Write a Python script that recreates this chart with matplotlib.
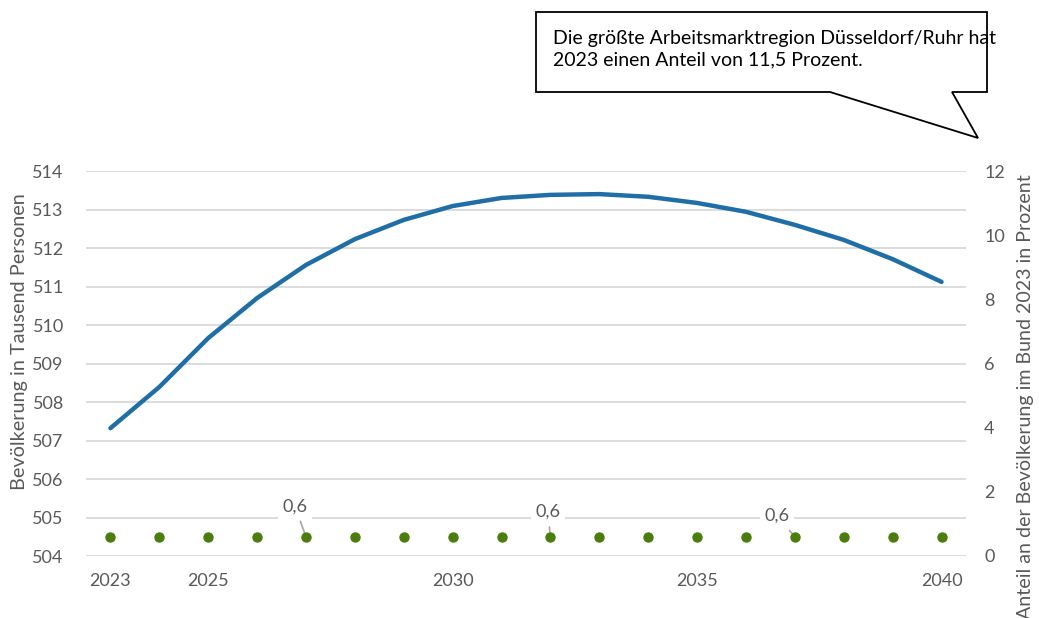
import matplotlib.pyplot as plt
import matplotlib.patches as patches
import numpy as np

plt.rcParams['font.family'] = ['Lato', 'DejaVu Sans']

# data
years = np.arange(2023, 2041)
bevoelkerung = [507.32, 508.39, 509.66, 510.70, 511.56, 512.23, 512.73, 513.09, 513.30,
                513.38, 513.40, 513.33, 513.17, 512.94, 512.60, 512.21, 511.71, 511.12]
anteil = [0.6] * len(years)
label_years = [2027, 2032, 2037]
label_offsets = [(-8, 22), (-2, 18), (-13, 15)]
xtick_years = [2023, 2025, 2030, 2035, 2040]
callout_text = 'Die größte Arbeitsmarktregion Düsseldorf/Ruhr hat\n2023 einen Anteil von 11,5 Prozent.'

grey = '#595959'
gridc = '#d9d9d9'

fig = plt.figure(figsize=(10.39, 6.18), dpi=100)
ax = fig.add_axes([86/1039, 1-556/618, 880/1039, 385/618])
ax2 = ax.twinx()

ax.set_xlim(2022.5, 2040.5)
ax.set_ylim(504, 514)
ax.set_yticks(np.arange(504, 515, 1))
ax.set_xticks(xtick_years)
ax.grid(True, axis='y', color=gridc, linewidth=1.3)
ax.set_axisbelow(True)
for a in (ax, ax2):
    for sp in a.spines.values():
        sp.set_visible(False)
    a.tick_params(length=0, labelsize=13, colors=grey)
ax.tick_params(axis='x', pad=12)
ax.tick_params(axis='y', pad=16)
ax2.tick_params(axis='y', pad=13)

ax.plot(years, bevoelkerung, color='#1f6fa6', linewidth=3.2, solid_capstyle='round', zorder=3)

ax2.set_ylim(0, 12)
ax2.set_yticks(np.arange(0, 13, 2))
ax2.scatter(years, anteil, s=42, color='#4a7d0c', zorder=4)
for yr, off in zip(label_years, label_offsets):
    ax2.annotate('0,6', xy=(yr, 0.6), xytext=off, textcoords='offset points',
                 ha='center', va='center', fontsize=13, color=grey,
                 bbox=dict(boxstyle='square,pad=0.25', fc='white', ec='none'),
                 arrowprops=dict(arrowstyle='-', color='#a6a6a6', lw=1.2, shrinkA=2, shrinkB=3))

fig.text(20/1039, 1-342/618, 'Bevölkerung in Tausend Personen', rotation=90,
         ha='center', va='center', fontsize=14.3, color=grey)
fig.text(1025/1039, 1-397/618, 'Anteil an der Bevölkerung im Bund 2023 in Prozent', rotation=90,
         ha='center', va='center', fontsize=14.1, color=grey)

# callout box
pts = [(536, 12), (987, 12), (987, 92), (952, 92), (978, 138), (830, 92), (536, 92)]
poly = patches.Polygon([(x/1039, 1-y/618) for x, y in pts], closed=True,
                       transform=fig.transFigure, fc='white', ec='black', lw=1.3)
fig.patches.append(poly)
fig.text(553/1039, 1-49/618, callout_text, ha='left', va='center', fontsize=14,
         color='black', linespacing=1.3)

fig.savefig('out.png', dpi=100)
